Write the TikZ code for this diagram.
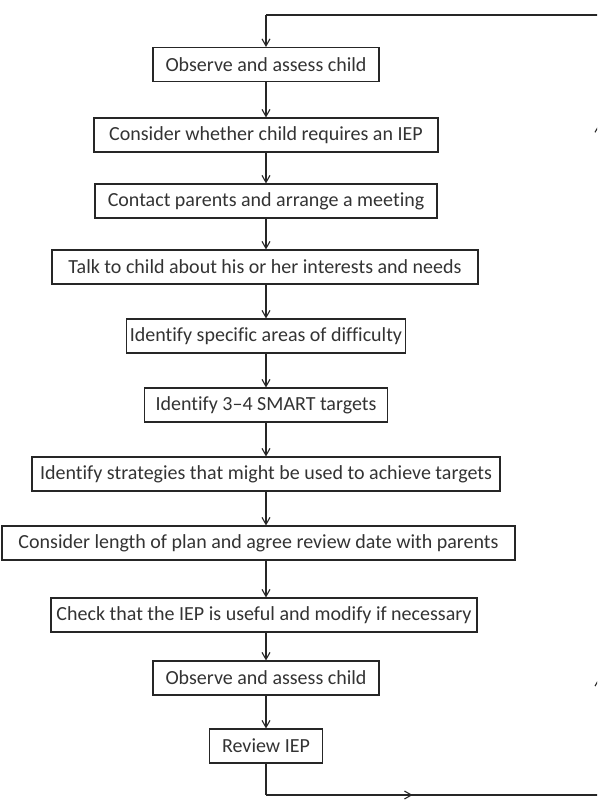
\documentclass[tikz,border=0pt]{standalone}
\usepackage{fontspec}
\setmainfont{Carlito}[Ligatures=NoCommon]
\usetikzlibrary{arrows.meta,decorations.markings}

\begin{document}
\begin{tikzpicture}[x=1pt,y=-1pt,
stepbox/.style={draw=black!85,line width=1.1pt,text=black!80,minimum height=34pt,inner sep=1.5pt,font=\fontsize{20}{23}\selectfont},
flowarrow/.style={draw=black!85,line width=1.1pt,-{Straight Barb[length=7pt,width=8pt]}},
loopline/.style={draw=black!85,line width=1.1pt}]
\useasboundingbox (0,0) rectangle (597,802);
\clip (0,0) rectangle (597,802);
% the steps, top to bottom
\node (obsfirst) at (266,64.5) [stepbox,minimum width=226pt] {Observe and assess child};
\node (needsiep) at (266,135) [stepbox,minimum width=344pt] {Consider whether child requires an IEP};
\node (contact) at (266,201) [stepbox,minimum width=342pt] {Contact parents and arrange a meeting};
\node (talk) at (265,267) [stepbox,minimum width=426pt] {Talk to child about his or her interests and needs};
\node (areas) at (266,336) [stepbox,minimum width=279pt] {Identify specific areas of difficulty};
\node (smart) at (266,405) [stepbox,minimum width=243pt] {Identify 3--4 SMART targets};
\node (strategies) at (266,474) [stepbox,minimum width=468pt] {Identify strategies that might be used to achieve targets};
\node (length) at (258.5,543) [stepbox,minimum width=513pt] {Consider length of plan and agree review date with parents};
\node (check) at (264,615) [stepbox,minimum width=426pt] {Check that the IEP is useful and modify if necessary};
\node (obssecond) at (266,678) [stepbox,minimum width=226pt] {Observe and assess child};
\node (review) at (266,746) [stepbox,minimum width=113pt] {Review IEP};
% straight arrows between the steps
\draw[flowarrow] (obsfirst.south) -- (obsfirst.south |- needsiep.north);
\draw[flowarrow] (needsiep.south) -- (needsiep.south |- contact.north);
\draw[flowarrow] (contact.south) -- (contact.south |- talk.north);
\draw[flowarrow] (contact.south |- talk.south) -- (contact.south |- areas.north);
\draw[flowarrow] (areas.south) -- (areas.south |- smart.north);
\draw[flowarrow] (smart.south) -- (smart.south |- strategies.north);
\draw[flowarrow] (strategies.south) -- (strategies.south |- length.north);
\draw[flowarrow] (strategies.south |- length.south) -- (strategies.south |- check.north);
\draw[flowarrow] (obssecond.north |- check.south) -- (obssecond.north);
\draw[flowarrow] (obssecond.south) -- (review.north);
% loop back to the top
\coordinate (loopbl) at (266,795);
\coordinate (loopbr) at (599,795);
\coordinate (looptr) at (599,15);
\coordinate (looptl) at (266,15);
\draw[loopline] (review.south) -- (loopbl);
\draw[loopline,postaction={decorate},decoration={markings,
  mark=at position 0.44 with {\arrow{Straight Barb[length=7pt,width=8pt]}}}] (loopbl) -- (loopbr);
\draw[loopline,postaction={decorate},decoration={markings,
  mark=at position 0.15 with {\arrow{Straight Barb[length=7pt,width=8pt]}},
  mark=at position 0.86 with {\arrow{Straight Barb[length=7pt,width=8pt]}}}] (loopbr) -- (looptr);
\draw[loopline] (looptr) -- (looptl);
\draw[flowarrow] (looptl) -- (obsfirst.north);
\end{tikzpicture}
\end{document}
